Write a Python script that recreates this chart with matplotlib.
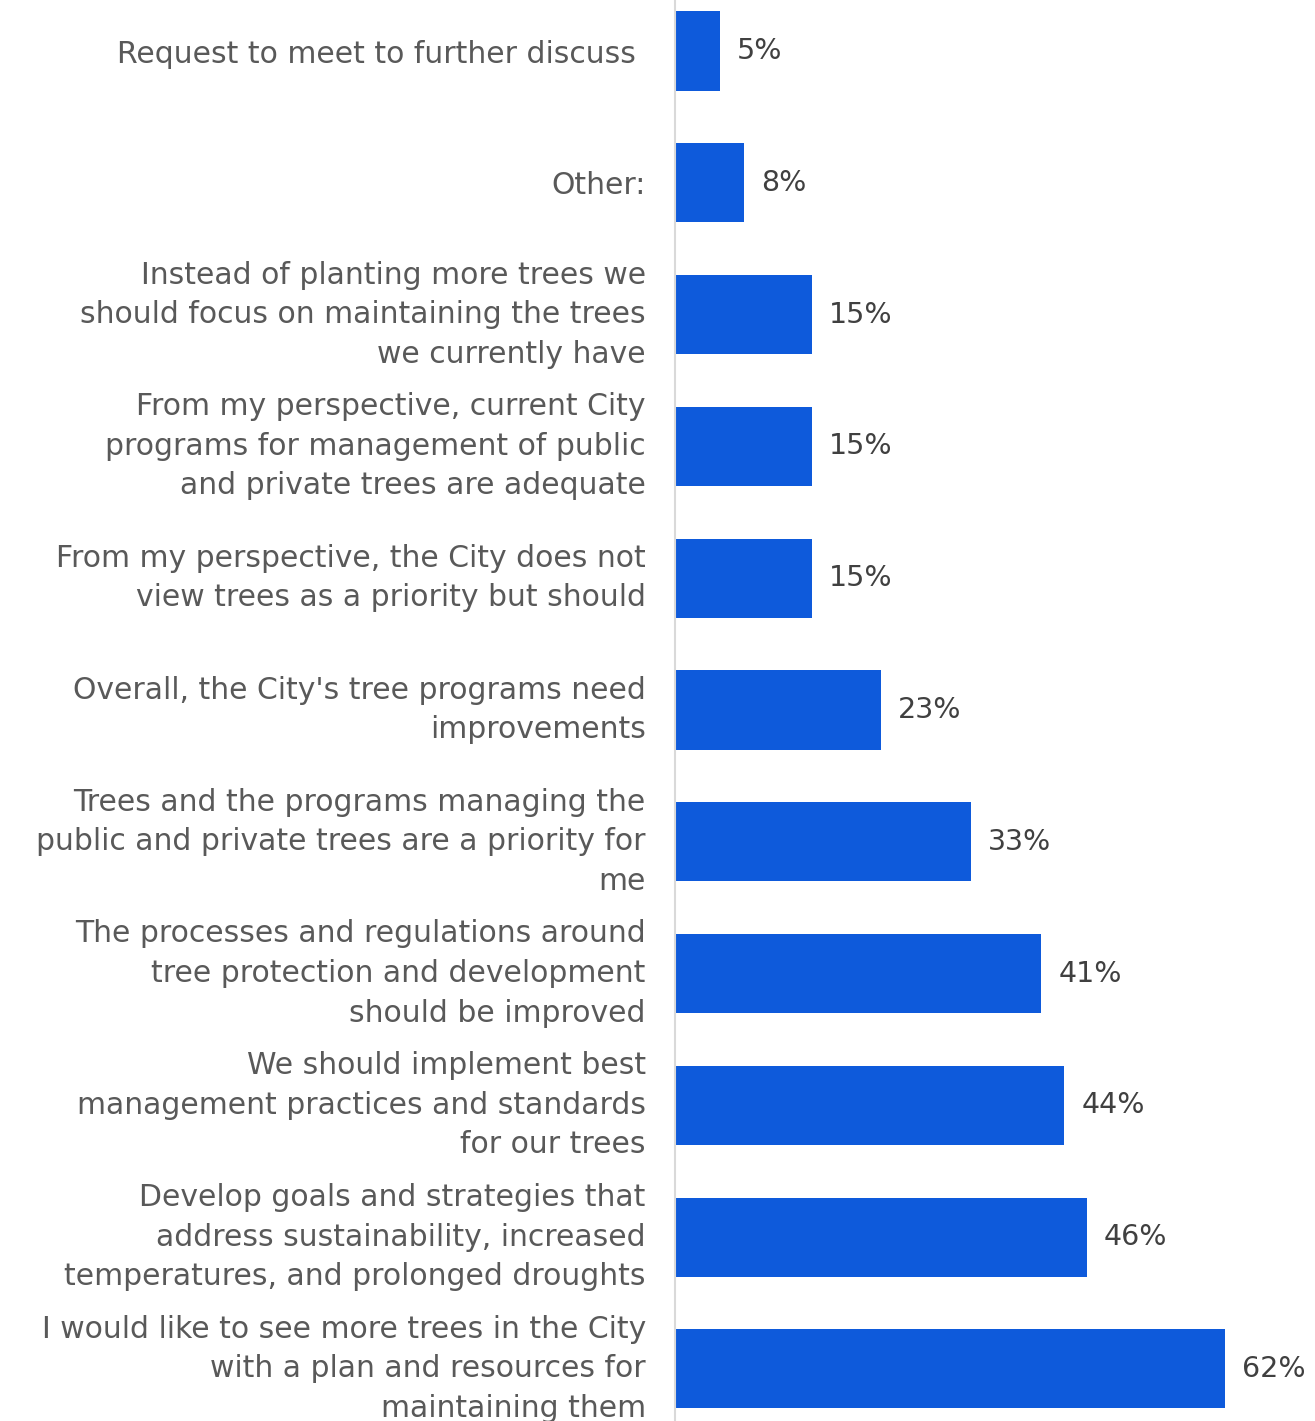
import matplotlib
matplotlib.use("Agg")
import matplotlib.pyplot as plt

# survey answers, top to bottom
labels = [
    "Request to meet to further discuss ",
    "Other:",
    "Instead of planting more trees we\nshould focus on maintaining the trees\nwe currently have",
    "From my perspective, current City\nprograms for management of public\nand private trees are adequate",
    "From my perspective, the City does not\nview trees as a priority but should",
    "Overall, the City's tree programs need\nimprovements",
    "Trees and the programs managing the\npublic and private trees are a priority for\nme",
    "The processes and regulations around\ntree protection and development\nshould be improved",
    "We should implement best\nmanagement practices and standards\nfor our trees",
    "Develop goals and strategies that\naddress sustainability, increased\ntemperatures, and prolonged droughts",
    "I would like to see more trees in the City\nwith a plan and resources for\nmaintaining them",
]
# bar lengths (%), shown rounded
values = [5.1, 7.8, 15.4, 15.4, 15.4, 23.2, 33.4, 41.3, 43.9, 46.4, 62.0]

plt.rcParams['font.family'] = ['DejaVu Sans']

W, H = 1315, 1421
fig = plt.figure(figsize=(W / 100, H / 100), dpi=100)
ax = fig.add_axes([675 / W, 0, 1 - 675 / W, 1])

pos = list(range(len(values)))
ax.barh(pos, values, height=0.6, color="#0E5ADB")

ax.set_xlim(0, 62 * 640 / 550)
ax.set_ylim(10.395, -0.387)

for i, v in zip(pos, values):
    ax.text(v + 1.9, i, f"{v:.0f}%", va="center", ha="left",
            fontsize=20.5, color="#404040")

ax.set_yticks(pos)
ax.set_yticklabels(labels, fontsize=21.5, color="#595959", linespacing=1.46)
for lab in ax.get_yticklabels():
    if "\n" in lab.get_text():
        lab.set_va("center")
ax.tick_params(axis="y", length=0, pad=21)
ax.set_xticks([])
for s in ["top", "right", "bottom"]:
    ax.spines[s].set_visible(False)
ax.spines["left"].set_color("#D9D9D9")
ax.spines["left"].set_linewidth(1.5)

fig.savefig("out.png", dpi=100)
